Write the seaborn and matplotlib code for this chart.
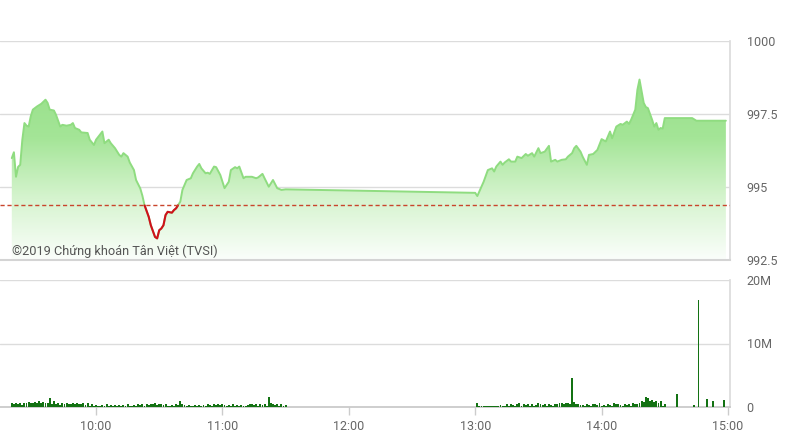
import numpy as np
import pandas as pd
import matplotlib
matplotlib.use("Agg")
import matplotlib.pyplot as plt
from matplotlib.colors import LinearSegmentedColormap
import seaborn as sns

REF_PRICE = 994.37

# index level (HH:MM, points)
price_times = [
    "09:20", "09:21", "09:22", "09:23", "09:24", "09:25", "09:26", "09:27", "09:28", "09:29",
    "09:30", "09:32", "09:34", "09:36", "09:37", "09:38", "09:40", "09:41", "09:43", "09:44",
    "09:46", "09:48", "09:49", "09:50", "09:52", "09:53", "09:56", "09:57", "09:59", "10:00",
    "10:03", "10:04", "10:06", "10:07", "10:09", "10:11", "10:12", "10:13", "10:15", "10:16",
    "10:18", "10:19", "10:21", "10:22", "10:23", "10:25", "10:26", "10:28", "10:29", "10:30",
    "10:31", "10:32", "10:33", "10:34", "10:36", "10:37", "10:38", "10:40", "10:41", "10:43",
    "10:45", "10:46", "10:48", "10:49", "10:50", "10:52", "10:53", "10:54", "10:56", "10:57",
    "10:59", "11:01", "11:03", "11:04", "11:06", "11:07", "11:08", "11:10", "11:11", "11:14",
    "11:16", "11:17", "11:19", "11:20", "11:22", "11:24", "11:26", "11:28", "11:30",
    "13:00", "13:01", "13:04", "13:06", "13:08", "13:09", "13:10", "13:12", "13:13", "13:14",
    "13:16", "13:17", "13:19", "13:20", "13:22", "13:24", "13:25", "13:27", "13:28", "13:30",
    "13:31", "13:33", "13:35", "13:36", "13:38", "13:39", "13:41", "13:43", "13:44", "13:46",
    "13:47", "13:48", "13:50", "13:51", "13:53", "13:54", "13:56", "13:58", "14:00", "14:02",
    "14:03", "14:04", "14:05", "14:07", "14:09", "14:10", "14:12", "14:13", "14:14", "14:16",
    "14:17", "14:18", "14:19", "14:20", "14:21", "14:22", "14:24", "14:25", "14:26", "14:27",
    "14:28", "14:29", "14:30", "14:43", "14:45", "14:59",
]
price_values = [
    995.99, 996.19, 995.35, 995.69, 995.76, 996.62, 997.19, 997.10, 997.07, 997.42,
    997.65, 997.76, 997.85, 997.99, 997.88, 997.65, 997.62, 997.47, 997.07, 997.13,
    997.10, 997.13, 997.19, 997.02, 996.96, 996.87, 996.85, 996.62, 996.44, 996.62,
    996.90, 996.50, 996.62, 996.50, 996.33, 996.10, 996.04, 996.16, 996.04, 995.84,
    995.58, 995.24, 994.95, 994.70, 994.38, 993.98, 993.69, 993.29, 993.24, 993.52,
    993.58, 993.69, 994.04, 994.15, 994.12, 994.21, 994.27, 994.50, 994.90, 995.24,
    995.30, 995.47, 995.70, 995.79, 995.64, 995.47, 995.49, 995.45, 995.70, 995.68,
    995.41, 994.96, 995.18, 995.58, 995.68, 995.64, 995.70, 995.30, 995.35, 995.35,
    995.30, 995.33, 995.45, 995.30, 995.01, 995.24, 994.96, 994.90, 994.92,
    994.80, 994.69, 995.18, 995.58, 995.64, 995.53, 995.70, 995.87, 995.76, 995.84,
    995.95, 995.87, 995.87, 996.04, 995.99, 996.13, 996.07, 996.16, 996.04, 996.33,
    996.16, 996.21, 996.41, 995.87, 995.93, 995.87, 995.93, 995.95, 996.04, 996.16,
    996.33, 996.41, 996.21, 996.04, 995.76, 996.10, 996.13, 996.27, 996.64, 996.56,
    996.73, 996.90, 996.67, 997.07, 997.16, 997.13, 997.24, 997.16, 997.30, 997.65,
    998.33, 998.68, 998.27, 997.88, 997.74, 997.70, 997.30, 997.07, 997.19, 996.96,
    997.02, 997.00, 997.36, 997.36, 997.27, 997.27,
]

# traded volume per minute, in millions
vol_am_start = "09:20"
vol_am = [
    0.6, 0.4, 0.7, 0.5, 0.6, 0.3, 0.7, 0.6, 0.8, 0.7,
    0.6, 0.8, 0.7, 0.9, 0.6, 0.8, 0.7, 0.6, 1.4, 0.5,
    0.9, 0.4, 0.7, 0.3, 0.6, 0.5, 0.6, 0.4, 0.5, 0.6,
    0.5, 0.6, 0.4, 0.5, 0.6, 0.3, 0.6, 0.2, 0.4, 0.1,
    0.3, 0.2, 0.1, 0.3, 0.2, 0.4, 0.2, 0.3, 0.2, 0.3,
    0.2, 0.3, 0.1, 0.3, 0.2, 0.4, 0.2, 0.1, 0.3, 0.2,
    0.4, 0.3, 0.5, 0.2, 0.4, 0.3, 0.5, 0.4, 0.6, 0.3,
    0.5, 0.4, 0.3, 0.5, 0.2, 0.1, 0.3, 0.2, 0.4, 0.3,
    0.9, 0.4, 0.3, 0.2, 0.3, 0.2, 0.1, 0.3, 0.2, 0.3,
    0.2, 0.3, 0.2, 0.4, 0.3, 0.2, 0.4, 0.3, 0.5, 0.3,
    0.4, 0.3, 0.2, 0.3, 0.2, 0.4, 0.1, 0.3, 0.2, 0.3,
    0.2, 0.1, 0.3, 0.4, 0.5, 0.3, 0.4, 0.2, 0.5, 0.3,
    0.4, 0.2, 1.5, 0.6, 0.4, 0.3, 0.5, 0.2, 0.4, 0.2,
    0.3,
]
vol_pm_start = "13:01"
vol_pm = [
    0.7, 0.1, 0.1, 0.2, 0.1, 0.1, 0.2, 0.1, 0.2, 0.1,
    0.2, 0.3, 0.1, 0.2, 0.4, 0.2, 0.5, 0.3, 0.2, 0.4,
    0.6, 0.2, 0.5, 0.3, 0.4, 0.1, 0.5, 0.2, 0.3, 0.6,
    0.4, 0.3, 0.5, 0.2, 0.4, 0.3, 0.2, 0.4, 0.5, 0.6,
    0.7, 0.5, 0.6, 0.7, 0.5, 4.6, 0.8, 0.5, 0.4, 0.3,
    0.3, 0.2, 0.4, 0.3, 0.2, 0.5, 0.4, 0.3, 0.6, 0.2,
    0.3, 0.2, 0.4, 0.3, 0.2, 0.7, 0.5, 0.4, 0.3, 0.2,
    0.4, 0.3, 0.5, 0.2, 0.6, 0.4, 0.5, 0.6, 0.9, 0.8,
    1.6, 1.4, 1.0, 1.1, 0.8, 1.0, 0.6, 0.9, 0.2, 0.5,
]
vol_late_times = ["14:36", "14:44", "14:46", "14:50", "14:53", "14:58"]
vol_late = [2.0, 0.3, 16.8, 1.2, 1.0, 1.1]

hour_labels = ["10:00", "11:00", "12:00", "13:00", "14:00", "15:00"]
price_ticks = [992.5, 995, 997.5, 1000]
price_tick_labels = ["992.5", "995", "997.5", "1000"]
vol_ticks = [0, 10, 20]
vol_tick_labels = ["0", "10M", "20M"]

WATERMARK = "©2019 Chứng khoán Tân Việt (TVSI)"


def to_hours(s):
    h, m = s.split(":")
    return int(h) + int(m) / 60


def minute_series(start, values):
    t0 = to_hours(start)
    return [t0 + i / 60 for i in range(len(values))]


def below_ref(x, y, ref):
    # add crossing points so the red part starts exactly at the ref line
    xs, ys = [], []
    for i in range(len(x)):
        if i > 0 and (y[i - 1] - ref) * (y[i] - ref) < 0:
            t = (ref - y[i - 1]) / (y[i] - y[i - 1])
            xs.append(x[i - 1] + t * (x[i] - x[i - 1]))
            ys.append(ref)
        xs.append(x[i])
        ys.append(y[i])
    xs, ys = np.array(xs), np.array(ys)
    keep = ys <= ref + 1e-9
    return xs[keep], ys[keep]


price = pd.DataFrame({"t": [to_hours(s) for s in price_times], "v": price_values})
vol = pd.DataFrame({
    "t": minute_series(vol_am_start, vol_am) + minute_series(vol_pm_start, vol_pm)
    + [to_hours(s) for s in vol_late_times],
    "v": vol_am + vol_pm + vol_late,
})

sns.set_theme(style="white")
plt.rcParams["font.family"] = ["Roboto", "DejaVu Sans"]

XMIN, XMAX = 9.24, 15.016
YMIN, YMAX = 992.5, 1000
GRID = "#dcdcdc"
TXT = "#666666"

fig = plt.figure(figsize=(7.89, 4.43), dpi=100)
ax = fig.add_axes([0.0, 1 - 260 / 443, 730 / 789, 219 / 443])
axv = fig.add_axes([0.0, 1 - 407 / 443, 730 / 789, 127 / 443])

# gradient fill under the index line
poly = ax.fill_between(price["t"], price["v"], YMIN, color="none", lw=0)
cmap = LinearSegmentedColormap.from_list("fade", ["#fbfefb", "#d6f4cf", "#a4e597", "#97e089"])
grad = np.linspace(0, 1, 256).reshape(-1, 1)
im = ax.imshow(grad, extent=[XMIN, XMAX, YMIN, 998.8], origin="lower",
               aspect="auto", cmap=cmap, zorder=1)
im.set_clip_path(poly.get_paths()[0], transform=ax.transData)

sns.lineplot(data=price, x="t", y="v", ax=ax, color="#8fdc80", lw=1.4,
             sort=False, estimator=None, zorder=3)
rx, ry = below_ref(price["t"].to_numpy(), price["v"].to_numpy(), REF_PRICE)
sns.lineplot(x=rx, y=ry, ax=ax, color="#d0101a", lw=1.5, sort=False,
             estimator=None, zorder=4)
ax.axhline(REF_PRICE, color="#c9452c", lw=1.0, ls=(0, (3, 2)), zorder=5)

for yv in price_ticks:
    ax.axhline(yv, color=GRID, lw=1.0, zorder=0)

ax.set_xlim(XMIN, XMAX)
ax.set_ylim(YMIN, YMAX)
ax.set_xticks([])
ax.set_xlabel("")
ax.set_ylabel("")
ax.yaxis.tick_right()
ax.set_yticks(price_ticks)
ax.set_yticklabels(price_tick_labels)
ax.tick_params(axis="y", length=0, pad=12, labelsize=9, labelcolor=TXT)
for side in ["top", "left"]:
    ax.spines[side].set_visible(False)
ax.spines["right"].set_color(GRID)
ax.spines["bottom"].set_color("#d4d4d4")
ax.spines["bottom"].set_linewidth(1.5)
ax.patch.set_alpha(0)

ax.text(0.016, 0.025, WATERMARK, transform=ax.transAxes, fontsize=9.2,
        color="#555555", ha="left", va="baseline", zorder=6)

# volume panel
axv.bar(vol["t"], vol["v"], width=0.9 / 60, color="#137213", lw=0, zorder=3)
for yv in vol_ticks[1:]:
    axv.axhline(yv, color=GRID, lw=1.0, zorder=0)
axv.set_xlim(XMIN, XMAX)
axv.set_ylim(0, 20)
axv.yaxis.tick_right()
axv.set_yticks(vol_ticks)
axv.set_yticklabels(vol_tick_labels)
axv.tick_params(axis="y", length=0, pad=12, labelsize=9, labelcolor=TXT)
axv.set_xticks([to_hours(s) for s in hour_labels])
axv.set_xticklabels(hour_labels)
axv.tick_params(axis="x", length=6, width=1, color="#cccccc", pad=3,
                labelsize=9, labelcolor=TXT, bottom=True)
for side in ["top", "left"]:
    axv.spines[side].set_visible(False)
axv.spines["right"].set_color(GRID)
axv.spines["bottom"].set_color("#c8c8c8")

fig.savefig("out.png", dpi=100)
